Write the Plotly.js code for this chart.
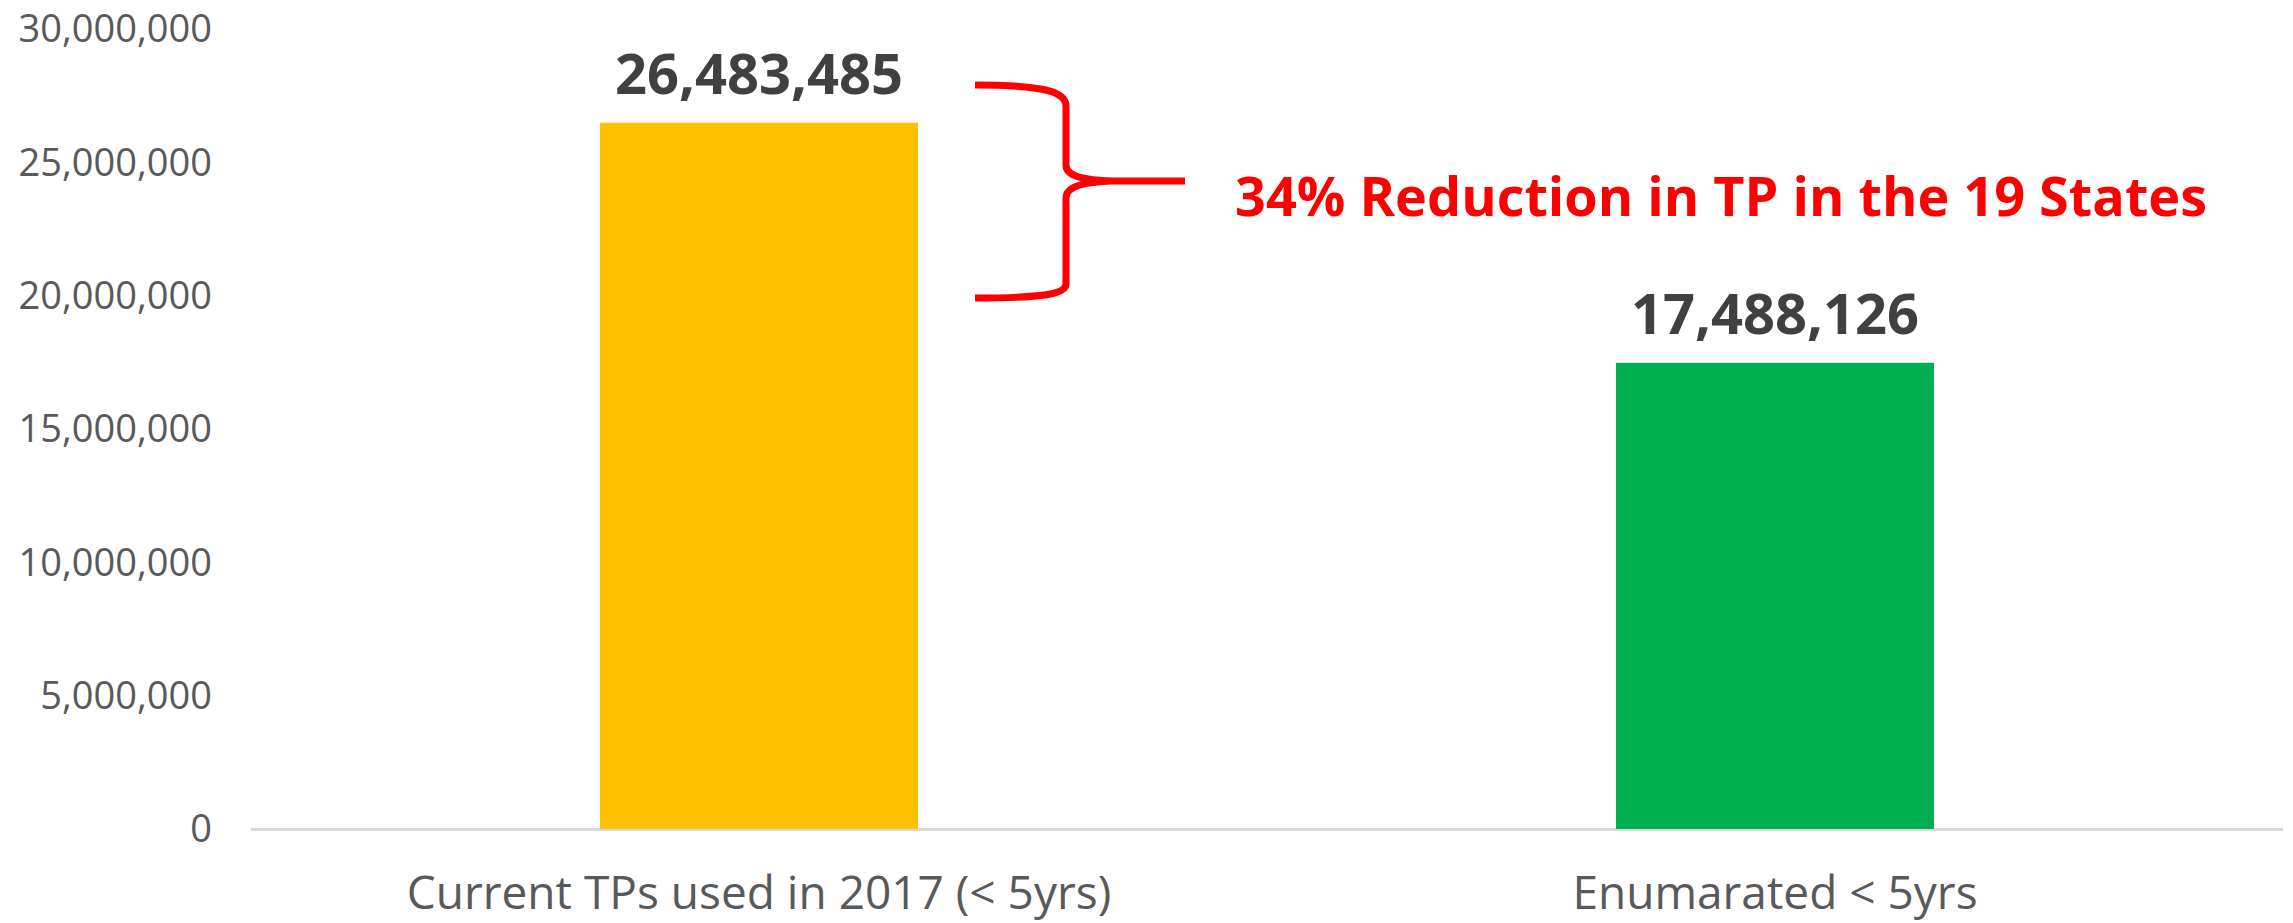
<!DOCTYPE html>
<html>
<head>
<meta charset="utf-8">
<script src="https://cdn.plot.ly/plotly-3.0.1.min.js"></script>
<style>
  html, body { margin: 0; padding: 0; background: #ffffff; }
  #chart { width: 2293px; height: 923px; }
</style>
</head>
<body>
<div id="chart"></div>
<script>
// ---- data ----
const categories = ["Current TPs used in 2017 (< 5yrs)", "Enumarated < 5yrs"];
const values = [26483485, 17488126];
const barColors = ["#FFC000", "#00B050"];
const yTickVals = [0, 5000000, 10000000, 15000000, 20000000, 25000000, 30000000];
const yTickText = ["0", "5,000,000", "10,000,000", "15,000,000", "20,000,000", "25,000,000", "30,000,000"];
const reductionText = "34% Reduction in TP in the 19 States";

// ---- layout geometry (pixels) ----
const W = 2293, H = 923;
const mL = 251, mR = 10, mT = 29, mB = 94;
const plotW = W - mL - mR, plotH = H - mT - mB;
const px = x => (x - mL) / plotW;          // pixel x -> paper
const py = y => (H - mB - y) / plotH;       // pixel y -> paper

function fmt(v) { return v.toLocaleString("en-US"); }

const trace = {
  type: "bar",
  x: categories,
  y: values,
  width: 0.313,
  marker: { color: barColors },
  hoverinfo: "none"
};

// brace path in pixel space, converted to paper coords
const bracePts = [
  ["M", 975, 85], ["C", 1045, 85, 1066, 92, 1066, 106], ["L", 1066, 165],
  ["C", 1066, 176, 1082, 180, 1112, 181], ["L", 1185, 181],
  ["M", 1112, 181], ["C", 1082, 182, 1066, 187, 1066, 198], ["L", 1066, 284],
  ["C", 1066, 294, 1045, 298, 975, 298]
];
const bracePath = bracePts.map(p => {
  let s = p[0];
  for (let i = 1; i < p.length; i += 2) {
    s += (i > 1 ? " " : "") + px(p[i]).toFixed(5) + "," + py(p[i + 1]).toFixed(5);
  }
  return s;
}).join(" ");

const annotations = categories.map((c, i) => ({
  x: c, y: values[i], xref: "x", yref: "y",
  text: fmt(values[i]),
  showarrow: false, xanchor: "center", yanchor: "bottom", yshift: 11,
  font: { family: "Open Sans", size: 56, color: "#404040", weight: "bold" }
}));
annotations.push({
  x: px(1721), y: py(194.5), xref: "paper", yref: "paper",
  text: reductionText, showarrow: false, xanchor: "center", yanchor: "middle",
  font: { family: "Open Sans", size: 54, color: "#FF0000", weight: "bold" }
});

const layout = {
  width: W, height: H,
  margin: { l: mL, r: mR, t: mT, b: mB, pad: 0 },
  paper_bgcolor: "#ffffff", plot_bgcolor: "#ffffff",
  showlegend: false,
  xaxis: {
    type: "category",
    showgrid: false, showline: false, zeroline: false,
    ticks: "", ticklabelstandoff: 33,
    tickfont: { family: "Open Sans", size: 46, color: "#595959" },
    fixedrange: true
  },
  yaxis: {
    range: [0, 30000000],
    tickvals: yTickVals, ticktext: yTickText,
    showgrid: false, showline: false,
    zeroline: true, zerolinecolor: "#D9D9D9", zerolinewidth: 3,
    ticks: "", ticklabelstandoff: 38,
    tickfont: { family: "Open Sans", size: 38, color: "#595959" },
    fixedrange: true
  },
  shapes: [{
    type: "path", xref: "paper", yref: "paper", path: bracePath,
    line: { color: "#FF0000", width: 7 }, fillcolor: "rgba(0,0,0,0)"
  }],
  annotations: annotations
};

Plotly.newPlot("chart", [trace], layout, { displayModeBar: false, staticPlot: true });
</script>
</body>
</html>
